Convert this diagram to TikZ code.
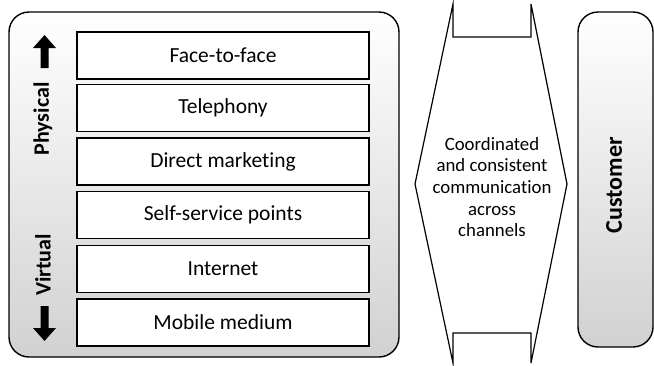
\documentclass[tikz,border=0pt]{standalone}
\usepackage{fontspec}
\setmainfont{Carlito}[Ligatures={NoCommon}]
\begin{document}
\begin{tikzpicture}[x=1pt,y=-1pt,
  panel/.style={draw=black,line width=1.4pt,rounded corners=20pt,top color=white,bottom color=gray!36},
  chanbox/.style={draw=black,line width=1.4pt,fill=white,minimum width=292pt,minimum height=47pt,inner sep=0pt,font=\fontsize{21.5}{25}\selectfont},
  sidelabel/.style={rotate=90,font=\fontsize{22}{25}\selectfont\bfseries,inner sep=0pt},
  blockarrow/.style={fill=black,draw=none}]
\useasboundingbox (0,0) rectangle (654,365);
% left panel
\draw[panel] (9,12) rectangle (399,357);
% channel boxes
\node[chanbox] (b1) at (223,55.5) {Face-to-face};
\node[chanbox] (b2) at (223,108) {Telephony};
\node[chanbox] (b3) at (223,161.5) {Direct marketing};
\node[chanbox] (b4) at (223,215) {Self-service points};
\node[chanbox] (b5) at (223,269) {Internet};
\node[chanbox] (b6) at (223,322.5) {Mobile medium};
% side labels
\node[sidelabel] (phys) at (43,119) {Physical};
\node[sidelabel] (virt) at (43,265) {Virtual};
% arrows
\fill[blockarrow] (44.5,35) -- (56,48) -- (48.5,48) -- (48.5,68) -- (40.5,68) -- (40.5,48) -- (33,48) -- cycle;
\fill[blockarrow] (44.5,341) -- (56,328) -- (48.5,328) -- (48.5,306) -- (40.5,306) -- (40.5,328) -- (33,328) -- cycle;
% middle shape
\draw[line width=1.2pt,fill=white,line join=miter]
  (453,4) -- (415,184) -- (453,363) -- (453,333) -- (531,333) -- (531,363)
  -- (567,184) -- (531,4) -- (531,37) -- (453,37) -- cycle;
\node[align=center,font=\fontsize{18.8}{21.7}\selectfont,inner sep=0pt] (mid) at (492,187)
  {Coordinated\\and consistent\\communication\\across\\channels};
% customer
\draw[panel] (578,12) rectangle (653,347);
\node[rotate=90,font=\fontsize{24}{28}\selectfont\bfseries,inner sep=0pt] (cust) at (614,185) {Customer};
\end{tikzpicture}
\end{document}
